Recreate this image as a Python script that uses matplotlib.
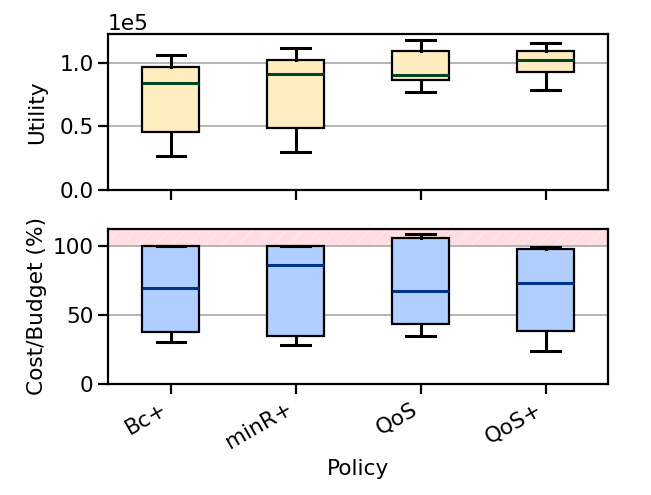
import matplotlib
matplotlib.use("Agg")
import matplotlib.pyplot as plt

policies = ["Bc+", "minR+", "QoS", "QoS+"]

# Utility: whisker low, Q1, median, Q3, whisker high
util_whislo = [0.266e5, 0.298e5, 0.772e5, 0.788e5]
util_q1 = [0.453e5, 0.490e5, 0.864e5, 0.927e5]
util_med = [0.845e5, 0.914e5, 0.906e5, 1.024e5]
util_q3 = [0.971e5, 1.024e5, 1.096e5, 1.098e5]
util_whishi = [1.066e5, 1.121e5, 1.182e5, 1.159e5]

# Cost/Budget (%)
cost_whislo = [30.6, 28.4, 35.0, 24.1]
cost_q1 = [37.6, 35.2, 43.7, 38.6]
cost_med = [70.0, 86.2, 68.0, 73.8]
cost_q3 = [100.0, 100.0, 106.1, 98.1]
cost_whishi = [100.0, 100.0, 109.0, 99.6]

FS = 15.6


def stats(lo, q1, med, q3, hi):
    return [dict(whislo=a, q1=b, med=c, q3=d, whishi=e, fliers=[])
            for a, b, c, d, e in zip(lo, q1, med, q3, hi)]


fig, (ax1, ax2) = plt.subplots(2, 1, figsize=(6.51, 4.95), dpi=100, sharex=True)
fig.subplots_adjust(left=0.166, right=0.934, top=0.931, bottom=0.224, hspace=0.25)

pos = [1, 2, 3, 4]


def draw(ax, st, face, medc):
    ax.bxp(st, positions=pos, widths=0.45, patch_artist=True, showfliers=False,
           boxprops=dict(facecolor=face, edgecolor="black", linewidth=1.6),
           medianprops=dict(color=medc, linewidth=2.2),
           whiskerprops=dict(color="black", linewidth=2.2),
           capprops=dict(color="black", linewidth=2.2))
    ax.yaxis.grid(True, color="#b0b0b0", linewidth=1.3)
    ax.set_axisbelow(True)
    for s in ax.spines.values():
        s.set_linewidth(1.6)
    ax.tick_params(width=1.6, length=7, labelsize=FS)


draw(ax1, stats(util_whislo, util_q1, util_med, util_q3, util_whishi), "#FFEDC0", "#004526")
ax1.set_ylim(0, 1.23e5)
ax1.set_yticks([0, 0.5e5, 1.0e5])
ax1.ticklabel_format(axis="y", style="sci", scilimits=(0, 0))
ax1.yaxis.get_offset_text().set_fontsize(FS)
ax1.set_ylabel("Utility", fontsize=FS)

ax2.axhspan(100, 120, facecolor="#ffdde0", edgecolor="#ffe9eb", hatch="//",
            linewidth=0, zorder=0)
draw(ax2, stats(cost_whislo, cost_q1, cost_med, cost_q3, cost_whishi), "#B0CEFF", "#003385")
ax2.set_ylim(0, 113)
ax2.set_yticks([0, 50, 100])
ax2.set_ylabel("Cost/Budget (%)", fontsize=FS)
ax2.set_xlim(0.5, 4.5)
ax2.set_xticks(pos)
ax2.set_xticklabels(policies, rotation=30, ha="right", fontsize=FS)
ax2.set_xlabel("Policy", fontsize=FS)
ax1.tick_params(labelbottom=False)

fig.align_ylabels([ax1, ax2])
fig.savefig("out.png")
